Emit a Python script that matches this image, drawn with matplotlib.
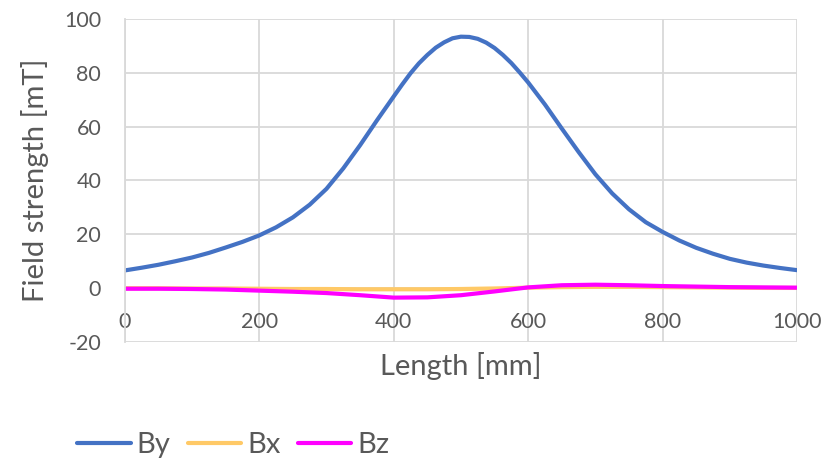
import matplotlib
matplotlib.use("Agg")
import matplotlib.pyplot as plt

length_by = [0, 25, 50, 75, 100, 125, 150, 175, 200, 225, 250, 275, 300, 325, 350,
             375, 400, 412.5, 425, 437.5, 450, 462.5, 475, 487.5, 500, 512.5, 525,
             537.5, 550, 562.5, 575, 587.5, 600, 625, 650, 675, 700, 725, 750, 775,
             800, 825, 850, 875, 900, 925, 950, 975, 1000]
by = [6.6, 7.6, 8.7, 10.0, 11.4, 13.1, 15.1, 17.2, 19.6, 22.6, 26.3, 31.0, 36.9,
      44.5, 53.1, 62.3, 71.2, 75.6, 79.8, 83.5, 86.6, 89.3, 91.3, 92.8, 93.4, 93.3,
      92.6, 91.2, 89.2, 86.6, 83.6, 80.1, 76.4, 68.2, 59.3, 50.6, 42.3, 35.2, 29.3,
      24.5, 20.9, 17.7, 15.0, 12.8, 10.9, 9.5, 8.4, 7.5, 6.7]

length_b = [0, 50, 100, 150, 200, 250, 300, 350, 400, 450, 500, 550, 600, 650, 700,
            750, 800, 850, 900, 950, 1000]
bx = [0.0, 0.0, -0.1, -0.1, -0.2, -0.3, -0.3, -0.4, -0.4, -0.4, -0.3, -0.1, 0.2,
      0.4, 0.5, 0.5, 0.4, 0.3, 0.2, 0.1, 0.1]
bz = [-0.2, -0.2, -0.3, -0.5, -0.9, -1.3, -1.8, -2.6, -3.5, -3.4, -2.6, -1.2, 0.3,
      1.1, 1.3, 1.1, 0.8, 0.6, 0.4, 0.3, 0.2]

x_ticks = [0, 200, 400, 600, 800, 1000]
y_ticks = [-20, 0, 20, 40, 60, 80, 100]

plt.rcParams['font.family'] = ['Lato', 'DejaVu Sans']
plt.rcParams['axes.unicode_minus'] = False
grey = '#595959'
gridc = '#d9d9d9'

fig = plt.figure(figsize=(8.32, 4.61), dpi=100)
ax = fig.add_axes([0.150, 0.258, 0.808, 0.701])

ax.plot(length_by, by, color='#4472C4', lw=3.0, label='By', solid_capstyle='round')
ax.plot(length_b, bx, color='#FFC966', lw=3.0, label='Bx', solid_capstyle='round')
ax.plot(length_b, bz, color='#FF00FF', lw=3.0, label='Bz', solid_capstyle='round')

ax.set_xlim(0, 1000)
ax.set_ylim(-20, 100)
ax.set_xticks(x_ticks)
ax.set_yticks(y_ticks)
ax.grid(True, color=gridc, lw=1.3)
ax.set_axisbelow(True)

for s in ['top', 'right']:
    ax.spines[s].set_visible(False)
ax.spines['left'].set_color(gridc)
ax.spines['left'].set_linewidth(1.3)
ax.spines['bottom'].set_position(('data', 0))
ax.spines['bottom'].set_visible(False)
ax.tick_params(axis='both', length=0, labelsize=15.5, labelcolor=grey)
ax.tick_params(axis='y', pad=17)
ax.tick_params(axis='x', pad=17)

ax.set_xlabel('Length [mm]', fontsize=21, color=grey)
ax.xaxis.label.set_va('center')
ax.xaxis.set_label_coords(0.5, -0.074)
ax.set_ylabel('Field strength [mT]', fontsize=21, color=grey)
ax.yaxis.label.set_va('center')
ax.yaxis.set_label_coords(-0.134, 0.5)

fig.legend(loc='center left', bbox_to_anchor=(0.093, 1 - 445 / 461), ncol=3,
           frameon=False, fontsize=21, labelcolor=grey, handlelength=1.83,
           handletextpad=0.2, columnspacing=0.6, borderaxespad=0, borderpad=0)

fig.savefig('out.png', dpi=100)
